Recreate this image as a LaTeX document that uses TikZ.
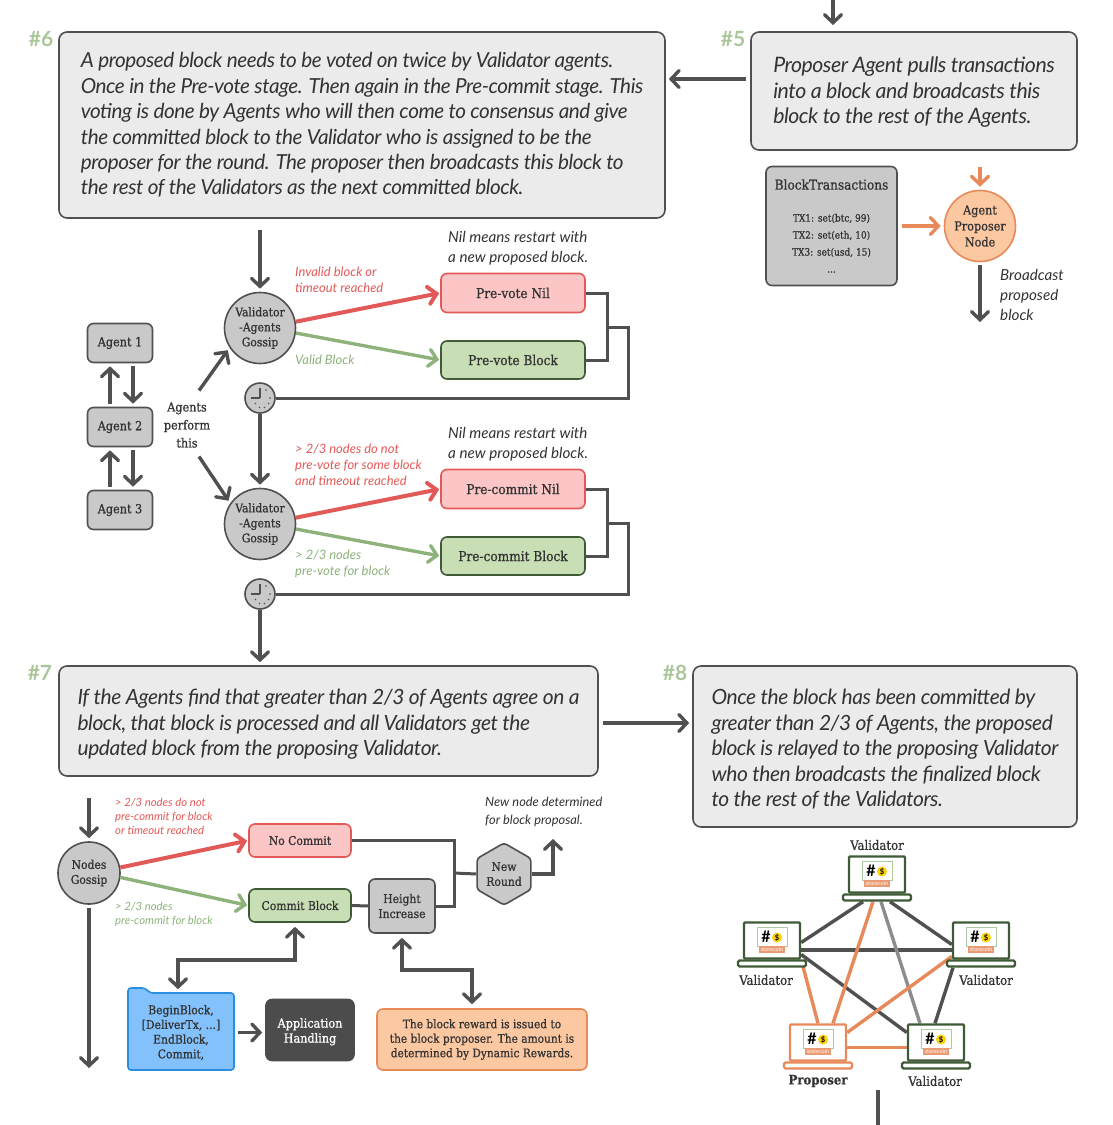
\documentclass[tikz,border=0pt]{standalone}
\usepackage{fontspec}
\usetikzlibrary{arrows.meta,shapes.geometric,backgrounds,calc}
\setmainfont{Lato}
\newfontfamily\slabfont[FakeBold=0.8]{DejaVu Serif Condensed}
\newfontfamily\stepfont[LetterSpace=-2.2]{Lato}

\definecolor{inkdark}{HTML}{333333}
\definecolor{wirecol}{HTML}{505050}
\definecolor{redline}{HTML}{E25A57}
\definecolor{redfill}{HTML}{FDC6C6}
\definecolor{greenline}{HTML}{8DB27A}
\definecolor{greenfill}{HTML}{C8DEB4}
\definecolor{greenedge}{HTML}{3F5A36}
\definecolor{orangeline}{HTML}{E8895A}
\definecolor{orangefill}{HTML}{FCC8A2}
\definecolor{stepgreen}{HTML}{A9C79A}
\definecolor{blockgray}{HTML}{C9C9C9}
\definecolor{boxgray}{HTML}{EBEBEB}
\definecolor{folderblue}{HTML}{82C1FB}
\definecolor{folderedge}{HTML}{2A8EE0}

\tikzset{
    >={Straight Barb[length=8pt,width=17pt,line cap=round]},
    stepbox/.style={draw=wirecol, fill=boxgray, line width=1.6pt, rounded corners=8pt, inner sep=0pt,
        align=left, text=inkdark, font=\stepfont\itshape\fontsize{21}{25.4}\selectfont},
    steptag/.style={text=stepgreen, font=\bfseries\fontsize{21}{24}\selectfont, inner sep=0pt},
    labelbox/.style={rounded corners=6pt, line width=1.6pt, align=center, text=inkdark, inner sep=0pt,
        font=\slabfont\fontsize{13.5}{16}\selectfont},
    graybox/.style={labelbox, draw=wirecol, fill=blockgray},
    nilbox/.style={labelbox, draw=redline, fill=redfill},
    blockbox/.style={labelbox, draw=greenedge, fill=greenfill},
    graydisc/.style={labelbox, circle, draw=wirecol, fill=blockgray, font=\slabfont\fontsize{12}{15}\selectfont},
    clockdisc/.style={circle, draw=wirecol, fill=blockgray, line width=1.6pt, minimum size=30pt, inner sep=0pt},
    flow/.style={->, draw=wirecol, line width=3.4pt, shorten >=3pt},
    redflow/.style={flow, draw=redline, line width=4pt, shorten >=1pt},
    greenflow/.style={flow, draw=greenline, shorten >=1pt},
    orangeflow/.style={flow, draw=orangeline},
    wire/.style={draw=wirecol, line width=3pt},
    note/.style={anchor=west, align=left, inner sep=0pt, text=inkdark, font=\itshape\fontsize{15.2}{20}\selectfont},
    rednote/.style={note, text=redline, font=\itshape\fontsize{13}{16}\selectfont},
    greennote/.style={note, text=greenline, font=\itshape\fontsize{13}{16}\selectfont},
    smallred/.style={rednote, font=\itshape\fontsize{11.3}{14}\selectfont},
    smallgreen/.style={greennote, font=\itshape\fontsize{11.3}{14}\selectfont},
    netlabel/.style={inner sep=0pt, text=inkdark, font=\slabfont\fontsize{13}{15}\selectfont},
    lapscreen/.style={draw=#1, fill=white, line width=2.4pt, minimum width=56pt, minimum height=36pt, inner sep=0pt, rounded corners=1pt},
    lapbase/.style={draw=#1, fill=white, line width=2.4pt, minimum width=68pt, minimum height=6pt, inner sep=0pt, rounded corners=1.5pt},
    netdark/.style={draw=wirecol, line width=3.4pt},
    netgray/.style={draw=gray!90, line width=3.4pt},
    netorange/.style={draw=orangeline, line width=3.4pt},
}

\begin{document}
\begin{tikzpicture}[x=1pt, y=-1pt]
    \useasboundingbox (0,0) rectangle (1112,1125);

    % ==========================================
    % MACRO: clock face and laptop
    % ==========================================
    \def\clockface#1{
        \draw[wirecol, line width=1.2pt] (#1.center) -- ++(0,-10) (#1.center) -- ++(-9,0);
        \fill[wirecol] (#1.center) ++(10,0) circle (0.8) ++(-1.5,5.5) circle (0.8) ++(-4,4) circle (0.8)
            ++(-5,0) circle (0.8) ++(-4,-4) circle (0.8) (#1.center) ++(6,-8) circle (0.8);
    }
    \def\laptop#1#2#3#4{
        \node[lapscreen=#4] (#1) at (#2,#3) {};
        \node[lapbase=#4] (#1-b) at (#2,#3+23) {};
        \draw[greenline!70, fill=white, line width=0.7pt] (#2-15,#3-13) rectangle (#2+15,#3+6);
        \node[inner sep=0pt, font=\bfseries\fontsize{16}{16}\selectfont] at (#2-6,#3-4) {\#};
        \fill[yellow!70!orange] (#2+5,#3-3) circle (5);
        \node[inner sep=0pt, font=\bfseries\fontsize{7.5}{7.5}\selectfont] at (#2+5,#3-3) {\$};
        \node[fill=orangeline!85, text=white, inner xsep=1.5pt, inner ysep=1pt, font=\fontsize{5.5}{6}\selectfont] at (#2,#3+9) {storecoin};
    }
    % raises the height of a first line, so the lines of a box sit lower
    \def\lift#1{\rule{0pt}{#1}}

    % ==========================================
    % STEP 5: PROPOSER
    % ==========================================
    \node[steptag] (tagFive) at (733,39) {\#5};
    \node[stepbox, minimum width=326pt, minimum height=118pt, font=\stepfont\itshape\fontsize{21.3}{25.4}\selectfont] (boxFive) at (914,91)
        {\lift{18pt}Proposer Agent pulls transactions\\into a block and broadcasts this\\block to the rest of the Agents.};
    \coordinate (entryTop) at (833,0);
    \draw[flow] (entryTop) -- (833,28);

    \node[graybox, minimum width=131pt, minimum height=119pt, font=\slabfont\fontsize{10}{17}\selectfont] (blockTx) at (831.5,226)
        {{\fontsize{13.5}{16}\selectfont BlockTransactions}\\[15pt]TX1: set(btc, 99)\\TX2: set(eth, 10)\\TX3: set(usd, 15)\\...};
    \node[labelbox, circle, draw=orangeline, fill=orangefill, minimum size=71pt, font=\slabfont\fontsize{12.5}{16}\selectfont] (proposerNode) at (980,226)
        {Agent\\Proposer\\Node};
    \coordinate (proposerIn) at (980,167);
    \draw[orangeflow] (proposerIn) -- (proposerNode.north);
    \draw[orangeflow] ([xshift=4]blockTx.east) -- (proposerNode.west);
    \coordinate (broadcastEnd) at (980,325);
    \draw[flow, shorten <=3pt] (proposerNode.south) -- (broadcastEnd);
    \node[note] (broadcastNote) at (1000,295) {Broadcast\\proposed\\block};

    % ==========================================
    % STEP 6: VOTING
    % ==========================================
    \node[steptag] (tagSix) at (41,39) {\#6};
    \node[stepbox, minimum width=606pt, minimum height=186pt, font=\stepfont\itshape\fontsize{20.7}{25.4}\selectfont] (boxSix) at (362,125)
        {A proposed block needs to be voted on twice by Validator agents.\\
         Once in the Pre-vote stage. Then again in the Pre-commit stage. This\\
         voting is done by Agents who will then come to consensus and give\\
         the committed block to the Validator who is assigned to be the\\
         proposer for the round. The proposer then broadcasts this block to\\
         the rest of the Validators as the next committed block.};
    \draw[flow, shorten <=4pt] (boxFive.west |- 0,79) -- (boxSix.east |- 0,79);

    % Agents
    \node[graybox, minimum width=65pt, minimum height=39pt, font=\slabfont\fontsize{12.5}{15}\selectfont] (agentOne) at (120,343) {Agent 1};
    \node[graybox, minimum width=65pt, minimum height=39pt, font=\slabfont\fontsize{12.5}{15}\selectfont] (agentTwo) at (120,427) {Agent 2};
    \node[graybox, minimum width=65pt, minimum height=39pt, font=\slabfont\fontsize{12.5}{15}\selectfont] (agentThree) at (120,510) {Agent 3};
    \draw[flow, shorten <=3pt] ([xshift=-10]agentTwo.north) -- ([xshift=-10]agentOne.south);
    \draw[flow, shorten <=3pt] ([xshift=13]agentOne.south) -- ([xshift=13]agentTwo.north);
    \draw[flow, shorten <=3pt] ([xshift=-10]agentThree.north) -- ([xshift=-10]agentTwo.south);
    \draw[flow, shorten <=3pt] ([xshift=13]agentTwo.south) -- ([xshift=13]agentThree.north);
    \node[labelbox, font=\slabfont\fontsize{12.5}{18}\selectfont] (performNote) at (187,425) {Agents\\perform\\this};

    % Pre-vote
    \node[graydisc, minimum size=71pt] (gossipVote) at (260,328) {Validator\\-Agents\\Gossip};
    \node[nilbox, minimum width=144pt, minimum height=39pt] (voteNil) at (513,293) {Pre-vote Nil};
    \node[blockbox, minimum width=144pt, minimum height=38pt] (voteBlock) at (513,360) {Pre-vote Block};
    \node[clockdisc] (clockVote) at (260,398) {};
    \clockface{clockVote}
    \draw[flow] ([yshift=62]gossipVote.north) -- (gossipVote.north);
    \draw[redflow] (gossipVote.10) -- (voteNil.west);
    \draw[greenflow] (gossipVote.-8) -- (voteBlock.west);
    \draw[wire] (voteNil.east) -- ++(22,0) |- (voteBlock.east);
    \coordinate (joinVote) at (607,327);
    \draw[wire] (joinVote) -- ++(21,0) |- (clockVote.east);
    \node[note] (nilVote) at (448,248) {Nil means restart with\\a new proposed block.};
    \node[rednote] (badVote) at (295,280) {Invalid block or\\timeout reached};
    \node[greennote] (goodVote) at (295,360) {Valid Block};

    % Pre-commit
    \node[graydisc, minimum size=71pt] (gossipCommit) at (260,524) {Validator\\-Agents\\Gossip};
    \node[nilbox, minimum width=144pt, minimum height=39pt] (commitNil) at (513,489) {Pre-commit Nil};
    \node[blockbox, minimum width=144pt, minimum height=38pt] (commitBlock) at (513,556) {Pre-commit Block};
    \node[clockdisc] (clockCommit) at (260,594) {};
    \clockface{clockCommit}
    \draw[flow] (clockVote.south) -- (gossipCommit.north);
    \draw[redflow] (gossipCommit.10) -- (commitNil.west);
    \draw[greenflow] (gossipCommit.-8) -- (commitBlock.west);
    \draw[wire] (commitNil.east) -- ++(22,0) |- (commitBlock.east);
    \coordinate (joinCommit) at (607,523);
    \draw[wire] (joinCommit) -- ++(21,0) |- (clockCommit.east);
    \node[note] (nilCommit) at (448,444) {Nil means restart with\\a new proposed block.};
    \node[rednote] (badCommit) at (295,465) {> 2/3 nodes do not\\pre-vote for some block\\and timeout reached};
    \node[greennote] (goodCommit) at (295,564) {> 2/3 nodes\\pre-vote for block};

    \draw[flow, shorten <=3pt] ($(agentTwo.east)+(44,-34)$) -- (gossipVote.213);
    \draw[flow, shorten <=3pt] ($(agentTwo.east)+(44,27)$) -- (gossipCommit.145);

    % ==========================================
    % STEP 7: COMMIT
    % ==========================================
    \node[steptag] (tagSeven) at (40,673) {\#7};
    \node[stepbox, minimum width=539pt, minimum height=110pt] (boxSeven) at (328.5,721)
        {\lift{22pt}If the Agents find that greater than 2/3 of Agents agree on a\hspace{4pt}\\
         block, that block is processed and all Validators get the\\
         updated block from the proposing Validator.};
    \draw[flow] (clockCommit.south) -- (boxSeven.north -| clockCommit.south);

    \node[graydisc, minimum size=62pt] (gossipNodes) at (89,873) {Nodes\\Gossip};
    \coordinate (nodesIn) at (89,798);
    \coordinate (nodesOut) at (89,1071);
    \draw[flow] (nodesIn) -- (gossipNodes.north);
    \draw[flow, shorten <=3pt] (gossipNodes.south) -- (nodesOut);

    \node[nilbox, minimum width=102pt, minimum height=33pt, font=\slabfont\fontsize{12}{14}\selectfont] (noCommit) at (300,840.5) {No Commit};
    \node[blockbox, minimum width=102pt, minimum height=33pt, font=\slabfont\fontsize{12}{14}\selectfont] (commitOk) at (300,905.5) {Commit Block};
    \node[graybox, minimum width=66pt, minimum height=54pt, font=\slabfont\fontsize{12}{15}\selectfont] (heightUp) at (402,906) {Height\\Increase};
    \node[labelbox, regular polygon, regular polygon sides=6, shape border rotate=30, rounded corners=3pt, draw=wirecol, fill=blockgray, minimum size=62pt, font=\slabfont\fontsize{12}{15}\selectfont] (newRound) at (504,874) {New\\Round};
    \draw[redflow] (gossipNodes.10) -- (noCommit.west);
    \draw[greenflow] (gossipNodes.-8) -- (commitOk.west);
    \draw[wire] (commitOk.east) -- (heightUp.west);
    \draw[wire] (noCommit.east) -- ++(103,0) |- (heightUp.east);
    \coordinate (joinRound) at (454,873);
    \draw[wire] (joinRound) -- (newRound.west);
    \coordinate (roundOut) at (553,836);
    \draw[flow] (newRound.east) -| (roundOut);
    \node[note, font=\itshape\fontsize{12.8}{18}\selectfont] (newNote) at (485,812) {New node determined\\for block proposal.};
    \node[smallred] (badNodes) at (115,816) {> 2/3 nodes do not\\pre-commit for block\\or timeout reached};
    \node[smallgreen] (goodNodes) at (115,914) {> 2/3 nodes\\pre-commit for block};

    % Folder with the block calls
    \draw[draw=folderedge, fill=folderblue, line width=1.6pt, rounded corners=3pt]
        (128,1070) -- (128,988) -- (145,988) -- (150,993) -- (234,993) -- (234,1070) -- cycle;
    \node[labelbox, minimum width=106pt, minimum height=77pt, font=\slabfont\fontsize{12}{14.7}\selectfont] (folderCalls) at (181,1032.5)
        {BeginBlock,\\{}[DeliverTx, ...]\\EndBlock,\\Commit,};
    \node[labelbox, draw=black!70, fill=black!70, text=white, minimum width=88pt, minimum height=61pt, font=\slabfont\fontsize{12.5}{15}\selectfont] (appHandling) at (310,1030)
        {\lift{13pt}Application\\Handling};
    \node[labelbox, draw=orangeline, fill=orangefill, minimum width=210pt, minimum height=61pt, font=\slabfont\fontsize{11.8}{14.5}\selectfont] (rewardBox) at (482,1039.5)
        {The block reward is issued to\\the block proposer. The amount is\\determined by Dynamic Rewards.};
    \draw[flow, shorten <=3pt] (folderCalls.east) -- (appHandling.west |- folderCalls.east);
    \coordinate (busFolder) at (237,960);
    \draw[flow, <->, shorten <=4pt, shorten >=4pt] ([xshift=-3]folderCalls.north) |- (busFolder) -| (commitOk.south -| 295,0);
    \coordinate (busReward) at (437,970);
    \draw[flow, <->, shorten <=4pt, shorten >=4pt] (heightUp.south) |- (busReward) -| (rewardBox.north -| 472,0);

    % ==========================================
    % STEP 8: NETWORK
    % ==========================================
    \node[steptag] (tagEight) at (675,673) {\#8};
    \node[stepbox, minimum width=384pt, minimum height=161pt] (boxEight) at (885,746.5)
        {\lift{21pt}Once the block has been committed by\\
         greater than 2/3 of Agents, the proposed\\
         block is relayed to the proposing Validator\\
         who then broadcasts the finalized block\\
         to the rest of the Validators.};
    \draw[flow, shorten <=4pt] (boxSeven.east |- 0,723) -- (boxEight.west |- 0,723);

    \laptop{lapTop}{877}{874.5}{greenedge}
    \laptop{lapLeft}{772}{940.5}{greenedge}
    \laptop{lapRight}{981}{940.5}{greenedge}
    \laptop{lapProp}{818}{1042.5}{orangeline}
    \laptop{lapVal}{936}{1042.5}{greenedge}
    \begin{scope}[on background layer]
        \draw[netdark] ([xshift=-14]lapTop-b.south) -- ([yshift=-2]lapLeft.east);
        \draw[netdark] ([xshift=13]lapTop-b.south) -- ([yshift=-4]lapRight.west);
        \draw[netdark] ([yshift=-9.5]lapLeft.east) -- ([yshift=-9.5]lapRight.west);
        \draw[netdark] ([yshift=-14]lapLeft.east) -- ([yshift=10]lapVal.west);
        \draw[netdark] ([xshift=-28]lapRight-b.south) -- ([xshift=-1]lapVal.north);
        \draw[netgray] ([xshift=4]lapTop-b.south) -- ([xshift=-16]lapVal.north);
        \draw[netorange] ([xshift=-4]lapTop-b.south) -- ([xshift=15]lapProp.north);
        \draw[netorange] ([xshift=-5]lapLeft-b.east) -- (lapProp.north);
        \draw[netorange] ([yshift=-16]lapRight.west) -- ([yshift=10]lapProp.east);
        \draw[netorange] ([yshift=-5]lapProp.east) -- ([yshift=-5]lapVal.west);
    \end{scope}
    \node[netlabel] (nameTop) at (877,845) {Validator};
    \node[netlabel] (nameLeft) at (766,980) {Validator};
    \node[netlabel] (nameRight) at (986,980) {Validator};
    \node[netlabel, font=\slabfont\bfseries\fontsize{13}{15}\selectfont] (nameProp) at (818,1081) {Proposer};
    \node[netlabel] (nameVal) at (935,1081) {Validator};
    \coordinate (nextTop) at (878,1090);
    \coordinate (nextEnd) at (878,1125);
    \draw[wire, line width=3.4pt] (nextTop) -- (nextEnd);
\end{tikzpicture}
\end{document}
